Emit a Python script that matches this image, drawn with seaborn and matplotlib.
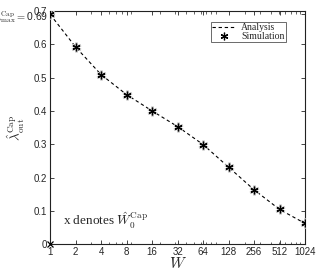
import numpy as np
import pandas as pd
import matplotlib
matplotlib.use("Agg")
import matplotlib.pyplot as plt
import matplotlib.ticker as mticker
import matplotlib.transforms as mtransforms
import seaborn as sns

# -------------------------------------
# Data
# -------------------------------------
W = [1, 2, 4, 8, 16, 32, 64, 128, 256, 512, 1024]
analysis = [0.69, 0.592, 0.509, 0.449, 0.400, 0.353, 0.299, 0.231, 0.163, 0.104, 0.062]
simulation = [0.69, 0.592, 0.509, 0.449, 0.400, 0.353, 0.299, 0.231, 0.163, 0.104, 0.062]
x_ticks = [1, 2, 4, 8, 16, 32, 64, 128, 256, 512, 1024]
y_ticks = [0, 0.1, 0.2, 0.3, 0.4, 0.5, 0.6, 0.7]
lam_max = 0.69

df = pd.DataFrame({"W": W, "Analysis": analysis, "Simulation": simulation})

# -------------------------------------
# Style
# -------------------------------------
sns.set_style("ticks")
plt.rcParams["font.family"] = ["Liberation Sans", "DejaVu Sans"]
plt.rcParams["mathtext.fontset"] = "cm"

fig = plt.figure(figsize=(3.32, 2.70), dpi=100)
ax = fig.add_axes([0.151, 0.096, 0.768, 0.863])

sns.lineplot(data=df, x="W", y="Analysis", ax=ax, color="black",
             linestyle=(0, (3, 2.5)), linewidth=0.8, label="Analysis")
ax.plot(df["W"], df["Simulation"], linestyle="none", marker=(6, 2, 0),
        markersize=7, color="#c8c8c8", markeredgewidth=1.8, zorder=3)
ax.plot(df["W"], df["Simulation"], linestyle="none", marker=(6, 2, 0),
        markersize=5.5, color="black", markeredgewidth=0.9, zorder=4,
        label="Simulation")
ax.plot([1], [0], marker="x", color="black", markersize=4,
        markeredgewidth=0.9, clip_on=False, zorder=5)

# -------------------------------------
# Axes
# -------------------------------------
ax.set_xscale("log")
ax.set_xlim(1, 1024)
ax.set_ylim(0, 0.7)
ax.xaxis.set_major_locator(mticker.FixedLocator(x_ticks))
ax.xaxis.set_major_formatter(mticker.FixedFormatter([str(v) for v in x_ticks]))
ax.xaxis.set_minor_locator(mticker.LogLocator(base=10, subs=range(2, 10)))
ax.xaxis.set_minor_formatter(mticker.NullFormatter())

ax.set_yticks(y_ticks + [lam_max])
ax.set_yticklabels(["0", "0.1", "0.2", "0.3", "0.4", "0.5", "0.6", "0.7", ""])

# label for the lambda_max tick
trans = mtransforms.blended_transform_factory(ax.transAxes, ax.transData)
ax.text(-0.008, lam_max - 0.006, r"$\hat{\lambda}_{\max}^{\rm Cap}=$0.69",
        transform=trans, ha="right", va="center", fontsize=7.5)

for s in ax.spines.values():
    s.set_visible(True)
    s.set_linewidth(0.8)
    s.set_color("#222222")
ax.tick_params(which="both", direction="in", top=True, right=True,
               labelsize=7, pad=2)
ax.tick_params(which="major", length=3, width=0.6)
ax.tick_params(which="minor", length=1.8, width=0.5)

ax.set_xlabel(r"$W$", fontsize=11)
ax.xaxis.set_label_coords(0.5, -0.05)
ax.set_ylabel(r"$\hat{\lambda}_{\rm out}^{\rm Cap}$", fontsize=9.5)
ax.yaxis.set_label_coords(-0.09, 0.5)

ax.text(1.42, 0.07, r"x denotes $\hat{W}_0^{\rm Cap}$", fontsize=9.5,
        family="Liberation Serif", va="center", ha="left")

leg = ax.legend(loc="upper right", bbox_to_anchor=(0.925, 0.955),
                prop={"family": "Liberation Serif", "size": 7},
                frameon=True, fancybox=False, handlelength=2.5,
                borderpad=0.15, labelspacing=0.0, handletextpad=0.5,
                borderaxespad=0)
leg.get_frame().set_edgecolor("#444444")
leg.get_frame().set_linewidth(0.7)

fig.savefig("out.png", dpi=100)
